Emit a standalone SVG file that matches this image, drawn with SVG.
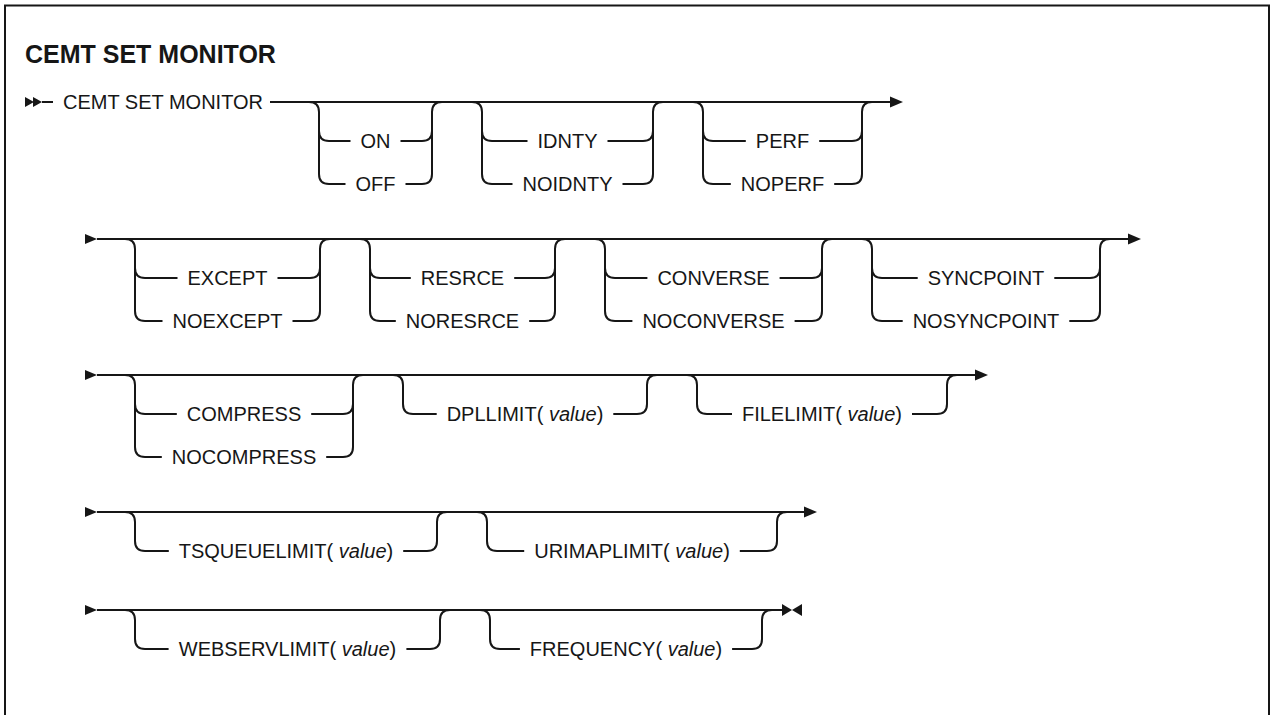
<svg xmlns="http://www.w3.org/2000/svg" width="1274" height="715" viewBox="0 0 1274 715">
<style>
.ln{fill:none;stroke:#161616;stroke-width:2;}
.ar{fill:#161616;stroke:none;}
.lbl{font-family:"Liberation Sans",Arial,sans-serif;font-size:20px;fill:#161616;text-anchor:middle;}
.st{font-family:"Liberation Sans",Arial,sans-serif;font-size:20px;fill:#161616;}
.ttl{font-family:"Liberation Sans",Arial,sans-serif;font-size:25px;font-weight:bold;fill:#161616;}
.it{font-style:italic;}
</style>
<rect x="0" y="0" width="1274" height="715" fill="#fff"/>
<path d="M5,740 V5.5 H1269 V740" fill="none" stroke="#161616" stroke-width="2"/>
<text id="title" class="ttl" x="25" y="63">CEMT SET MONITOR</text>

<g id="connectors">
<!-- Row 1 -->
<polygon class="ar" points="25,97 34,102 25,107"/>
<polygon class="ar" points="33,97 42,102 33,107"/>
<path class="ln" d="M42,102 H53 M270,102 H890"/>
<polygon class="ar" points="890,96.5 903,102 890,107.5"/>
<path class="ln" d="M309,102 Q319,102 319,112 V174 Q319,184 329,184 H345.5 M319,131 Q319,141 329,141 H350.5 M400.5,141 H422 Q432,141 432,131 M405.5,184 H422 Q432,184 432,174 V112 Q432,102 442,102"/>
<path class="ln" d="M472,102 Q482,102 482,112 V174 Q482,184 492,184 H512.5 M482,131 Q482,141 492,141 H527.5 M607.5,141 H643 Q653,141 653,131 M622.5,184 H643 Q653,184 653,174 V112 Q653,102 663,102"/>
<path class="ln" d="M693,102 Q703,102 703,112 V174 Q703,184 713,184 H730.8 M703,131 Q703,141 713,141 H745.8 M819.2,141 H852 Q862,141 862,131 M834.2,184 H852 Q862,184 862,174 V112 Q862,102 872,102"/>

<!-- Row 2 -->
<polygon class="ar" points="85,234 97,239 85,244"/>
<path class="ln" d="M97,239 H1128"/>
<polygon class="ar" points="1128,233.5 1141,239 1128,244.5"/>
<path class="ln" d="M125,239 Q135,239 135,249 V311 Q135,321 145,321 H162.5 M135,268 Q135,278 145,278 H177.5 M277.5,278 H310 Q320,278 320,268 M292.5,321 H310 Q320,321 320,311 V249 Q320,239 330,239"/>
<path class="ln" d="M360,239 Q370,239 370,249 V311 Q370,321 380,321 H395.8 M370,268 Q370,278 380,278 H410.8 M514.2,278 H545 Q555,278 555,268 M529.2,321 H545 Q555,321 555,311 V249 Q555,239 565,239"/>
<path class="ln" d="M595,239 Q605,239 605,249 V311 Q605,321 615,321 H632.4 M605,268 Q605,278 615,278 H647.4 M779.6,278 H812 Q822,278 822,268 M794.6,321 H812 Q822,321 822,311 V249 Q822,239 832,239"/>
<path class="ln" d="M862,239 Q872,239 872,249 V311 Q872,321 882,321 H902.7 M872,268 Q872,278 882,278 H917.7 M1054.3,278 H1090 Q1100,278 1100,268 M1069.3,321 H1090 Q1100,321 1100,311 V249 Q1100,239 1110,239"/>

<!-- Row 3 -->
<polygon class="ar" points="85,370 97,375 85,380"/>
<path class="ln" d="M97,375 H975"/>
<polygon class="ar" points="975,369.5 988,375 975,380.5"/>
<path class="ln" d="M125,375 Q135,375 135,385 V447 Q135,457 145,457 H161.8 M135,404 Q135,414 145,414 H176.8 M311.2,414 H343 Q353,414 353,404 M326.2,457 H343 Q353,457 353,447 V385 Q353,375 363,375"/>
<path class="ln" d="M393,375 Q403,375 403,385 V404 Q403,414 413,414 H436.7 M613.3,414 H637 Q647,414 647,404 V385 Q647,375 657,375"/>
<path class="ln" d="M687,375 Q697,375 697,385 V404 Q697,414 707,414 H732 M912,414 H937 Q947,414 947,404 V385 Q947,375 957,375"/>

<!-- Row 4 -->
<polygon class="ar" points="85,507 97,512 85,517"/>
<path class="ln" d="M97,512 H804"/>
<polygon class="ar" points="804,506.5 817,512 804,517.5"/>
<path class="ln" d="M125,512 Q135,512 135,522 V541 Q135,551 145,551 H168.8 M403.2,551 H427 Q437,551 437,541 V522 Q437,512 447,512"/>
<path class="ln" d="M477,512 Q487,512 487,522 V541 Q487,551 497,551 H524.2 M739.8,551 H767 Q777,551 777,541 V522 Q777,512 787,512"/>

<!-- Row 5 -->
<polygon class="ar" points="85,605 97,610 85,615"/>
<path class="ln" d="M97,610 H783"/>
<polygon class="ar" points="782,604 792,610 782,616"/>
<polygon class="ar" points="802,604 792,610 802,616"/>
<path class="ln" d="M125,610 Q135,610 135,620 V639 Q135,649 145,649 H168.6 M406.4,649 H430 Q440,649 440,639 V620 Q440,610 450,610"/>
<path class="ln" d="M480,610 Q490,610 490,620 V639 Q490,649 500,649 H519.9 M732.1,649 H752 Q762,649 762,639 V620 Q762,610 772,610"/>
</g>

<g id="cmd"><text class="st" x="63" y="109">CEMT SET MONITOR</text></g>
<g id="onoff"><text class="lbl" x="375.5" y="148">ON</text><text class="lbl" x="375.5" y="191">OFF</text></g>
<g id="idnty"><text class="lbl" x="567.5" y="148">IDNTY</text><text class="lbl" x="567.5" y="191">NOIDNTY</text></g>
<g id="perf"><text class="lbl" x="782.5" y="148">PERF</text><text class="lbl" x="782.5" y="191">NOPERF</text></g>

<g id="except"><text class="lbl" x="227.5" y="285">EXCEPT</text><text class="lbl" x="227.5" y="328">NOEXCEPT</text></g>
<g id="resrce"><text class="lbl" x="462.5" y="285">RESRCE</text><text class="lbl" x="462.5" y="328">NORESRCE</text></g>
<g id="converse"><text class="lbl" x="713.5" y="285">CONVERSE</text><text class="lbl" x="713.5" y="328">NOCONVERSE</text></g>
<g id="syncpoint"><text class="lbl" x="986" y="285">SYNCPOINT</text><text class="lbl" x="986" y="328">NOSYNCPOINT</text></g>

<g id="compress"><text class="lbl" x="244" y="421">COMPRESS</text><text class="lbl" x="244" y="464">NOCOMPRESS</text></g>
<g id="dpllimit"><text class="lbl" x="525" y="421">DPLLIMIT( <tspan class="it">value</tspan>)</text></g>
<g id="filelimit"><text class="lbl" x="822" y="421">FILELIMIT( <tspan class="it">value</tspan>)</text></g>

<g id="tsqueuelimit"><text class="lbl" x="286" y="558">TSQUEUELIMIT( <tspan class="it">value</tspan>)</text></g>
<g id="urimaplimit"><text class="lbl" x="632" y="558">URIMAPLIMIT( <tspan class="it">value</tspan>)</text></g>

<g id="webservlimit"><text class="lbl" x="287.5" y="656">WEBSERVLIMIT( <tspan class="it">value</tspan>)</text></g>
<g id="frequency"><text class="lbl" x="626" y="656">FREQUENCY( <tspan class="it">value</tspan>)</text></g>
</svg>
